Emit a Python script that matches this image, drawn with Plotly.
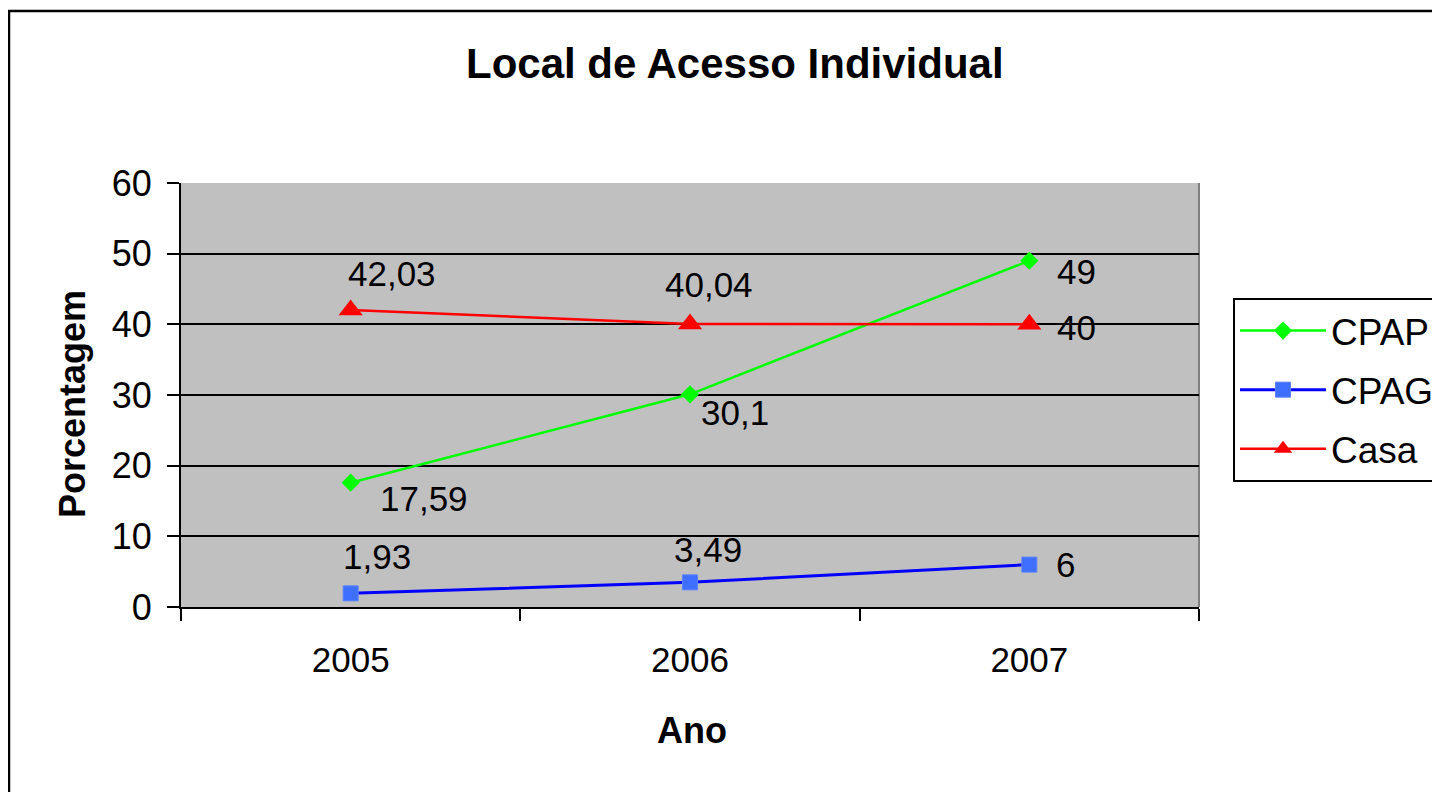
import plotly.graph_objects as go

anos = ["2005", "2006", "2007"]
cpap = [17.59, 30.1, 49]
cpag = [1.93, 3.49, 6]
casa = [42.03, 40.04, 40]
cpap_txt = ["17,59", "30,1", "49"]
cpag_txt = ["1,93", "3,49", "6"]
casa_txt = ["42,03", "40,04", "40"]
y_ticks = [0, 10, 20, 30, 40, 50, 60]

# label offsets in pixels (style, not data)
cpap_off = [(73, -16), (45, -18), (47, -11)]
cpag_off = [(26, 37), (18, 33), (36, 0)]
casa_off = [(41, 36), (19, 40), (47, -3)]

FONT = "Liberation Sans, Arial, sans-serif"
OX, OY = 8, 8  # page body margin
L, T, PW, PH = 181 - OX, 183 - OY, 1018, 424
W, H = 1440 - OX, 792 - OY


def px(xp):
    return (xp - 181) / PW


def py(yp):
    return (607 - yp) / PH


fig = go.Figure()
fig.add_trace(go.Scatter(x=anos, y=cpap, name="CPAP", mode="lines+markers", legendgroup="a",
                         line=dict(color="#00FF00", width=2.5),
                         marker=dict(symbol="diamond", size=14, color="#00FF00")))
fig.add_trace(go.Scatter(x=anos, y=cpag, name="CPAG", mode="lines+markers", legendgroup="b",
                         line=dict(color="#0000FF", width=3),
                         marker=dict(symbol="square", size=15, color="#3F6FFF",
                                     line=dict(color="#5A82FF", width=1))))
fig.add_trace(go.Scatter(x=anos, y=casa, name="Casa", mode="lines+markers", legendgroup="c",
                         line=dict(color="#FF0000", width=2.5),
                         marker=dict(symbol="triangle-up", size=21, color="#FF0000")))

annotations = []
for vals, txts, offs in [(cpap, cpap_txt, cpap_off), (cpag, cpag_txt, cpag_off), (casa, casa_txt, casa_off)]:
    for i, (v, t, (dx, dy)) in enumerate(zip(vals, txts, offs)):
        annotations.append(dict(x=i, y=v, xref="x", yref="y", text=t, showarrow=False,
                                xanchor="center", yanchor="middle",
                                xshift=dx, yshift=dy, font=dict(family=FONT, size=35, color="black")))

annotations.append(dict(xref="paper", yref="paper", x=px(735), y=py(64), text="<b>Local de Acesso Individual</b>",
                        showarrow=False, xanchor="center", yanchor="middle",
                        font=dict(family=FONT, size=42, color="black")))
annotations.append(dict(xref="paper", yref="paper", x=px(692), y=py(730), text="<b>Ano</b>",
                        showarrow=False, xanchor="center", yanchor="middle",
                        font=dict(family=FONT, size=36, color="black")))
annotations.append(dict(xref="paper", yref="paper", x=px(72), y=py(404),
                        text="<b>Porcentagem</b>", textangle=-90,
                        showarrow=False, xanchor="center", yanchor="middle",
                        font=dict(family=FONT, size=36, color="black")))

shapes = [
    dict(type="rect", xref="paper", yref="paper", x0=px(9), x1=px(1470),
         y0=py(820), y1=py(11), line=dict(color="black", width=2.5),
         fillcolor="rgba(0,0,0,0)", layer="below"),
    dict(type="line", xref="paper", yref="paper", x0=1, x1=1, y0=0, y1=1,
         line=dict(color="#808080", width=2), layer="below"),
]

fig.update_layout(
    width=W, height=H,
    margin=dict(l=L, r=W - L - PW, t=T, b=H - T - PH, autoexpand=False),
    paper_bgcolor="white", plot_bgcolor="#C0C0C0",
    font=dict(family=FONT, size=35, color="black"),
    annotations=annotations, shapes=shapes,
    showlegend=True,
    legend=dict(x=px(1233), y=py(298), xanchor="left", yanchor="top",
                bgcolor="white", bordercolor="black", borderwidth=2,
                font=dict(family=FONT, size=37, color="black"),
                tracegroupgap=8, itemwidth=86),
)
fig.update_xaxes(type="category", range=[-0.5, 2.5], tickson="boundaries",
                 ticks="outside", ticklen=12, tickwidth=2, tickcolor="black",
                 showline=True, linecolor="black", linewidth=2, showgrid=False,
                 ticklabelstandoff=21,
                 tickfont=dict(family=FONT, size=35, color="black"))
fig.update_yaxes(range=[0, 60], tickvals=y_ticks, ticks="outside", ticklen=12, tickwidth=2,
                 tickcolor="black", showline=True, linecolor="black", linewidth=2,
                 showgrid=True, gridcolor="black", gridwidth=2, zeroline=False,
                 ticklabelstandoff=8,
                 tickfont=dict(family=FONT, size=36, color="black"))

fig.write_html("out.html")
